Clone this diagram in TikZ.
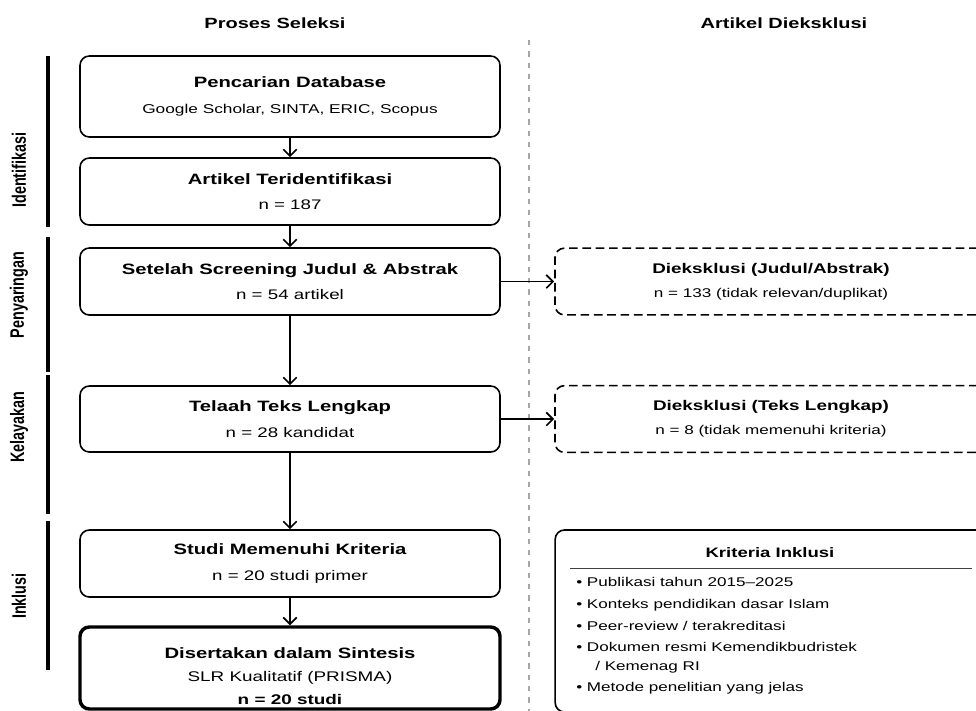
\documentclass[tikz,border=0pt]{standalone}
\usepackage{fontspec}
\setmainfont{Liberation Sans}[FakeStretch=1.35]
\newfontfamily\sidefont{Liberation Sans}
\usetikzlibrary{arrows.meta}
\tikzset{stage/.style = {draw, line width = 1.2pt, rounded corners = 7pt, minimum width = 315pt, align = center, font = \fontsize{10.4}{19}\selectfont}}
\tikzset{excl/.style = {draw, line width = 1.2pt, dash pattern = on 6.5pt off 3.5pt, rounded corners = 7pt, minimum width = 324pt, minimum height = 50pt, align = center, font = \fontsize{9.5}{18}\selectfont}}
\tikzset{arr/.style = {line width = 1.3pt, -{Straight Barb[length=5pt,width=10pt]}}}
\tikzset{phasebar/.style = {line width = 2.6pt}}
\tikzset{phase/.style = {xscale = 1.35, rotate = 90, font = \sidefont\bfseries\fontsize{10.8}{13}\selectfont}}
\tikzset{item/.style = {anchor = west, inner sep = 0, text height = 1.5ex, text depth = .25ex, font = \fontsize{9.5}{11}\selectfont}}
\newcommand{\hd}[1]{{\bfseries\fontsize{11.25}{19}\selectfont #1}}
\newcommand{\exhd}[1]{{\bfseries\fontsize{10.5}{18}\selectfont #1}}

\begin{document}
\begin{tikzpicture}[x=0.75pt, y=-0.75pt]
\useasboundingbox (0,0) rectangle (976,711);
% column heads
\node[font = \bfseries\fontsize{11.1}{13}\selectfont] (hleft) at (275,23) {Proses Seleksi};
\node[font = \bfseries\fontsize{11.1}{13}\selectfont] (hright) at (784,23) {Artikel Dieksklusi};
\draw[gray!70, line width = 0.8pt, dash pattern = on 4pt off 4.5pt] (529,40) -- (529,711);
% phases
\draw[phasebar] (48,56) -- (48,227);
\draw[phasebar] (48,237) -- (48,372);
\draw[phasebar] (48,375) -- (48,514);
\draw[phasebar] (48,521) -- (48,670);
\node[phase] (pident) at (19,170) {Identifikasi};
\node[phase] (pscreen) at (19,295) {Penyaringan};
\node[phase] (pelig) at (19,427) {Kelayakan};
\node[phase] (pincl) at (19,596) {Inklusi};
% selection flow
\node[stage, minimum height = 60.75pt] (search) at (290,96.5) {\hd{Pencarian Database}\\{\fontsize{9.6}{19}\selectfont Google Scholar, SINTA, ERIC, Scopus}};
\node[stage, minimum height = 50.25pt] (ident) at (290,191.5) {\hd{Artikel Teridentifikasi}\\n = 187};
\node[stage, minimum height = 50.25pt] (screen) at (290,281.5) {\hd{Setelah Screening Judul \& Abstrak}\\n = 54 artikel};
\node[stage, minimum height = 49.5pt] (full) at (290,419) {\hd{Telaah Teks Lengkap}\\n = 28 kandidat};
\node[stage, minimum height = 50.25pt] (eligible) at (290,563.5) {\hd{Studi Memenuhi Kriteria}\\n = 20 studi primer};
\node[stage, line width = 2.6pt, minimum height = 61.5pt] (synth) at (290,668) {};
\node[align = center, font = \fontsize{10.5}{17.25}\selectfont] (synthtext) at (290,676) {\hd{Disertakan dalam Sintesis}\\SLR Kualitatif (PRISMA)\\\textbf{n = 20 studi}};
\draw[arr] (search) -- (ident);
\draw[arr] (ident) -- (screen);
\draw[arr] (screen) -- (full);
\draw[arr] (full) -- (eligible);
\draw[arr] (eligible) -- (synth);
% excluded
\node[excl] (exscreen) at (771,281.5) {\exhd{Dieksklusi (Judul/Abstrak)}\\n = 133 (tidak relevan/duplikat)};
\node[excl] (exfull) at (771,419) {\exhd{Dieksklusi (Teks Lengkap)}\\n = 8 (tidak memenuhi kriteria)};
\draw[arr] (screen) -- (exscreen);
\draw[arr] (full) -- (exfull);
% criteria
\node[draw, line width = 1.2pt, rounded corners = 7pt, minimum width = 326pt, minimum height = 136.5pt] (crit) at (772.5,621) {};
\node[font = \bfseries\fontsize{10.3}{12}\selectfont] (crittitle) at (770,553) {Kriteria Inklusi};
\draw[gray!50!black, line width = 0.6pt] (570,568) -- (972,568);
\node[item] (c1) at (576,582) {• Publikasi tahun 2015--2025};
\node[item] (c2) at (576,604) {• Konteks pendidikan dasar Islam};
\node[item] (c3) at (576,626) {• Peer-review / terakreditasi};
\node[item] (c4) at (576,647) {• Dokumen resmi Kemendikbudristek};
\node[item] (c4b) at (595,666) {/ Kemenag RI};
\node[item] (c5) at (576,687) {• Metode penelitian yang jelas};
\end{tikzpicture}
\end{document}
